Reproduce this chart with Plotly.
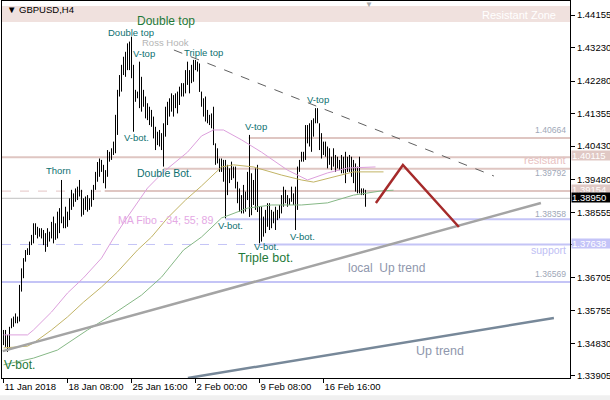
import plotly.graph_objects as go

# ---------------- data ----------------
symbol_title = "GBPUSD,H4"
x_tick_idx = [0, 32, 64, 96, 128, 160]
x_tick_text = ["11 Jan 2018", "18 Jan 08:00", "25 Jan 16:00", "2 Feb 00:00", "9 Feb 08:00", "16 Feb 16:00"]
y_tick_vals = [1.44155, 1.43230, 1.42280, 1.41355, 1.40430, 1.39480, 1.38555,
               1.37630, 1.36705, 1.35755, 1.34830, 1.33905]
y_tick_hidden = [1.37630]   # covered by the "support" price box in the original

bar_high = [1.3521, 1.3521, 1.3507, 1.3530, 1.3554, 1.3559, 1.3568, 1.3559, 1.3649, 1.3696,
            1.3725, 1.3748, 1.3753, 1.3772, 1.3791, 1.3824, 1.3824, 1.3814, 1.3810, 1.3810,
            1.3805, 1.3796, 1.3810, 1.3800, 1.3828, 1.3843, 1.3824, 1.3857, 1.3867, 1.3947,
            1.3843, 1.3871, 1.3857, 1.3895, 1.3919, 1.3909, 1.3923, 1.3928, 1.3947, 1.3919,
            1.3895, 1.3900, 1.3904, 1.3895, 1.3919, 1.3933, 1.3970, 1.3998, 1.4008, 1.4004,
            1.3990, 1.3975, 1.4032, 1.4027, 1.4037, 1.4056, 1.4132, 1.4203, 1.4245, 1.4274,
            1.4297, 1.4311, 1.4335, 1.4340, 1.4354, 1.4274, 1.4203, 1.4198, 1.4283, 1.4240,
            1.4203, 1.4184, 1.4165, 1.4155, 1.4146, 1.4127, 1.4098, 1.4084, 1.4089, 1.4080,
            1.4108, 1.4155, 1.4169, 1.4179, 1.4193, 1.4188, 1.4193, 1.4198, 1.4212, 1.4222,
            1.4222, 1.4259, 1.4283, 1.4259, 1.4274, 1.4288, 1.4288, 1.4283, 1.4278, 1.4198,
            1.4179, 1.4184, 1.4146, 1.4132, 1.4136, 1.4155, 1.4051, 1.4037, 1.4008, 1.4008,
            1.4004, 1.4004, 1.3990, 1.3980, 1.3999, 1.3985, 1.3985, 1.3942, 1.3923, 1.3904,
            1.3933, 1.3914, 1.3970, 1.4075, 1.3966, 1.3947, 1.3980, 1.3990, 1.3871, 1.3871,
            1.3843, 1.3862, 1.3881, 1.3881, 1.3862, 1.3857, 1.3871, 1.3862, 1.3876, 1.3904,
            1.3928, 1.3919, 1.3904, 1.3895, 1.3928, 1.3909, 1.3928, 1.3985, 1.4004, 1.4027,
            1.4027, 1.4103, 1.4103, 1.4108, 1.4117, 1.4122, 1.4151, 1.4151, 1.4108, 1.4080,
            1.4056, 1.4056, 1.4042, 1.4037, 1.4013, 1.4037, 1.4018, 1.4013, 1.4004, 1.4018,
            1.4013, 1.4027, 1.4013, 1.4018, 1.4013, 1.4004, 1.3994, 1.3985, 1.4013, 1.3923,
            1.3923, 1.3919]
bar_low = [1.3478, 1.3473, 1.3459, 1.3464, 1.3526, 1.3530, 1.3540, 1.3540, 1.3545, 1.3630,
           1.3668, 1.3715, 1.3734, 1.3734, 1.3762, 1.3767, 1.3791, 1.3781, 1.3786, 1.3781,
           1.3762, 1.3743, 1.3757, 1.3772, 1.3781, 1.3767, 1.3777, 1.3781, 1.3796, 1.3824,
           1.3810, 1.3810, 1.3814, 1.3833, 1.3862, 1.3871, 1.3885, 1.3890, 1.3900, 1.3843,
           1.3848, 1.3862, 1.3857, 1.3862, 1.3871, 1.3890, 1.3919, 1.3942, 1.3956, 1.3970,
           1.3938, 1.3923, 1.3956, 1.3999, 1.4004, 1.4018, 1.4023, 1.4075, 1.4184, 1.4198,
           1.4245, 1.4240, 1.4259, 1.4259, 1.4236, 1.4084, 1.4169, 1.4179, 1.4151, 1.4141,
           1.4155, 1.4122, 1.4117, 1.4103, 1.4098, 1.4065, 1.4032, 1.4046, 1.4042, 1.4032,
           1.3985, 1.4070, 1.4103, 1.4127, 1.4141, 1.4127, 1.4151, 1.4136, 1.4160, 1.4184,
           1.4184, 1.4193, 1.4217, 1.4193, 1.4222, 1.4226, 1.4259, 1.4255, 1.4197, 1.4155,
           1.4127, 1.4113, 1.4108, 1.4103, 1.4094, 1.4046, 1.3990, 1.3994, 1.3970, 1.3970,
           1.3942, 1.3838, 1.3904, 1.3938, 1.3947, 1.3952, 1.3923, 1.3881, 1.3857, 1.3852,
           1.3852, 1.3857, 1.3890, 1.3842, 1.3847, 1.3876, 1.3862, 1.3856, 1.3767, 1.3772,
           1.3786, 1.3796, 1.3814, 1.3805, 1.3810, 1.3824, 1.3805, 1.3833, 1.3838, 1.3852,
           1.3871, 1.3881, 1.3871, 1.3876, 1.3885, 1.3876, 1.3805, 1.3862, 1.3970, 1.3999,
           1.3999, 1.4004, 1.4051, 1.4042, 1.4027, 1.4070, 1.4108, 1.4108, 1.4032, 1.4008,
           1.4018, 1.4013, 1.3980, 1.3990, 1.3975, 1.3985, 1.3970, 1.3980, 1.3975, 1.3966,
           1.3966, 1.3938, 1.3970, 1.3970, 1.3956, 1.3938, 1.3914, 1.3909, 1.3909, 1.3904,
           1.3904, 1.3871]

# moving averages (34, 55, 89), read at sample bars
ma34_idx = [0, 12, 15, 24, 32, 40, 49, 55, 62, 72, 80, 92, 99, 105, 110, 119, 129, 142, 152, 162, 172, 186]
ma34_val = [1.3507, 1.3507, 1.3521, 1.3572, 1.3626, 1.3669, 1.3725, 1.3782, 1.3842, 1.3924, 1.3970,
            1.4026, 1.4072, 1.4089, 1.4089, 1.4061, 1.4026, 1.3975, 1.3947, 1.3967, 1.3981, 1.3984]
ma55_idx = [0, 12, 15, 24, 32, 40, 49, 57, 67, 74, 82, 91, 99, 109, 115, 125, 139, 149, 155, 165, 175, 190]
ma55_val = [1.3470, 1.3475, 1.3484, 1.3521, 1.3558, 1.3600, 1.3643, 1.3686, 1.3748, 1.3785, 1.3839,
            1.3890, 1.3930, 1.3984, 1.3990, 1.3984, 1.3961, 1.3947, 1.3941, 1.3955, 1.3970, 1.3970]
ma89_idx = [0, 15, 27, 42, 54, 69, 79, 90, 99, 109, 122, 134, 149, 162, 175, 189, 195]
ma89_val = [1.3422, 1.3441, 1.3464, 1.3521, 1.3563, 1.3620, 1.3671, 1.3748, 1.3785, 1.3839, 1.3867,
            1.3876, 1.3876, 1.3882, 1.3904, 1.3916, 1.3918]

# horizontal levels
level_resist_zone = [1.43956, 1.44411]
level_r1, level_r1_start = 1.40664, 122.6
level_r2 = 1.40115
level_r3, level_r3_start = 1.39792, 80
level_r4, level_r4_start = 1.39154, 50.6
level_bid = 1.38950
level_s1, level_s1_start = 1.38358, 111
level_s2, level_s2_start = 1.37638, 128
level_s3 = 1.36569

# trend lines (bar index, price)
ross_hook_x, ross_hook_y = [85.2, 245.2], [1.43161, 1.39583]
local_up_x, local_up_y = [-0.4, 268.7], [1.34610, 1.38816]
up_trend_x, up_trend_y = [92.2, 275.2], [1.33846, 1.35549]
forecast_x, forecast_y = [186.2, 199.7, 227.7], [1.38816, 1.39895, 1.38134]

X_MIN, X_MAX = -0.75, 283.25
Y_MIN, Y_MAX = 1.33846, 1.44553

# ---------------- figure ----------------
fig = go.Figure()

PINK = "#dfc6c2"
LAV = "#c4c4f6"

def hline(price, x0, color, width=2, dash="solid"):
    fig.add_trace(go.Scatter(x=[x0, X_MAX], y=[price, price], mode="lines",
                             line=dict(color=color, width=width, dash=dash),
                             hoverinfo="skip", showlegend=False))

fig.add_shape(type="rect", xref="x", yref="y", x0=X_MIN, x1=X_MAX,
              y0=level_resist_zone[0], y1=level_resist_zone[1],
              fillcolor="#f0e1de", line_width=0, layer="below")

hline(level_r4, X_MIN, "#e4c4c4", 1, "dash")
hline(level_s2, X_MIN, "#c4c4f6", 1, "dash")
hline(level_bid, X_MIN, "#c0c0c0", 1)
hline(level_r1, level_r1_start, PINK)
hline(level_r2, X_MIN, PINK)
hline(level_r3, level_r3_start, PINK)
hline(level_r4, level_r4_start, PINK)
hline(level_s1, level_s1_start, LAV)
hline(level_s2, level_s2_start, LAV)
hline(level_s3, X_MIN, LAV)

# price bars (high-low)
bx, by = [], []
for i, (h, l) in enumerate(zip(bar_high, bar_low)):
    bx += [i, i, None]
    by += [l, h, None]
fig.add_trace(go.Scatter(x=bx, y=by, mode="lines", line=dict(color="black", width=1),
                         hoverinfo="skip", showlegend=False))

for xs, ys, col in [(ma34_idx, ma34_val, "#dda0dd"), (ma55_idx, ma55_val, "#c2b466"),
                    (ma89_idx, ma89_val, "#86b886")]:
    fig.add_trace(go.Scatter(x=xs, y=ys, mode="lines", line=dict(color=col, width=1),
                             hoverinfo="skip", showlegend=False))

fig.add_trace(go.Scatter(x=ross_hook_x, y=ross_hook_y, mode="lines",
                         line=dict(color="#606060", width=1, dash="dash"),
                         hoverinfo="skip", showlegend=False))
fig.add_trace(go.Scatter(x=local_up_x, y=local_up_y, mode="lines",
                         line=dict(color="#a4a4a4", width=2.5), hoverinfo="skip", showlegend=False))
fig.add_trace(go.Scatter(x=up_trend_x, y=up_trend_y, mode="lines",
                         line=dict(color="#778899", width=2.5), hoverinfo="skip", showlegend=False))
fig.add_trace(go.Scatter(x=forecast_x, y=forecast_y, mode="lines",
                         line=dict(color="#a52a2a", width=2.5), hoverinfo="skip", showlegend=False))

FONT = "Liberation Sans"
GREEN = "#1f7a3a"
TEAL = "#0e7070"

labels = [
    ("Double top", 81.25, 1.43985, 12, GREEN),
    ("Double top", 63.75, 1.43672, 9.5, TEAL),
    ("Ross Hook", 80.75, 1.43388, 9.5, "#b4b4b4"),
    ("V-top", 70.25, 1.43076, 9.5, TEAL),
    ("Triple top", 99.75, 1.43104, 9.5, TEAL),
    ("V-top", 157.25, 1.41769, 9.5, TEAL),
    ("V-top", 126.25, 1.41003, 9.5, TEAL),
    ("V-bot.", 66.25, 1.40690, 9.5, TEAL),
    ("Thorn", 27.25, 1.39753, 9.5, TEAL),
    ("Double Bot.", 80.25, 1.39668, 10.5, TEAL),
    ("V-bot.", 113.25, 1.38191, 9.5, TEAL),
    ("V-bot.", 149.25, 1.37879, 9.5, TEAL),
    ("V-bot.", 131.25, 1.37595, 9.5, TEAL),
    ("Triple bot.", 130.75, 1.37254, 12.5, GREEN),
    ("V-bot.", 7.75, 1.34215, 12, GREEN),
    ("local  Up trend", 191.25, 1.36970, 12, "#8f97ad"),
    ("Up trend", 218.25, 1.34613, 12.5, "#8f97ad"),
    ("Resistant Zone", 257.75, 1.44169, 11, "white"),
]
for txt, xi, yp, sz, col in labels:
    fig.add_annotation(x=xi, y=yp, xref="x", yref="y", text=txt, showarrow=False,
                       font=dict(family=FONT, size=sz, color=col),
                       xanchor="center", yanchor="middle")

fig.add_annotation(x=56.25, y=1.38333, xref="x", yref="y", text="MA Fibo - 34; 55; 89",
                   showarrow=False, font=dict(family=FONT, size=10.6, color="#e4a8e4"),
                   xanchor="left", yanchor="middle")
fig.add_annotation(x=0.75, y=1.4431, xref="x", yref="y", text="▼ " + symbol_title,
                   showarrow=False, font=dict(family=FONT, size=9.5, color="black"),
                   xanchor="left", yanchor="middle")
fig.add_annotation(x=182.75, y=1, xref="x", yref="paper", text="▼", showarrow=False,
                   font=dict(family=FONT, size=8, color="#a8a8a8"), xanchor="center", yanchor="top",
                   yshift=3)

right_texts = [("resistant", 1.40037, 11, "#e8c2c2"), ("support", 1.37481, 10.5, "#c0c0f4"),
               ("1.40664", 1.40889, 8.6, "#a0a8b8"), ("1.39792", 1.39668, 8.6, "#a0a8b8"),
               ("1.38358", 1.38503, 8.6, "#a0a8b8"), ("1.36569", 1.36799, 8.6, "#a0a8b8")]
for txt, yp, sz, col in right_texts:
    fig.add_annotation(x=1, y=yp, xref="paper", yref="y", text=txt, showarrow=False,
                       font=dict(family=FONT, size=sz, color=col), xanchor="right",
                       yanchor="middle", xshift=-2)

# price boxes on the axis: (price, background, vertical nudge in px)
boxes = [(level_r2, "#e0c8c4", 2), (level_r4, "#e0c8c4", 2), (level_s2, "#c4c4f8", 1),
         (level_bid, "black", 0.5)]
for yp, bg, ys in boxes:
    fig.add_annotation(x=1, y=yp, xref="paper", yref="y", text=f"{yp:.5f}", showarrow=False,
                       font=dict(family=FONT, size=9.5, color="white"), bgcolor=bg,
                       xanchor="left", yanchor="middle", xshift=1, yshift=ys, width=40, height=9,
                       borderpad=0, align="left")

fig.add_shape(type="rect", xref="paper", yref="paper", x0=-0.01, x1=1.1, y0=-0.06, y1=-0.046,
              fillcolor="#f0f0f0", line_width=0)

fig.update_layout(
    width=610, height=400,
    margin=dict(l=2, r=40, t=1, b=22, autoexpand=False),
    paper_bgcolor="white", plot_bgcolor="white",
    showlegend=False,
    xaxis=dict(range=[X_MIN, X_MAX], showgrid=False, zeroline=False, showline=True,
               linecolor="black", linewidth=1, mirror=True, ticks="outside", ticklen=4,
               tickcolor="black", tickmode="array", tickvals=x_tick_idx, ticktext=x_tick_text,
               ticklabelposition="outside right", tickangle=0, automargin=False,
               tickfont=dict(family=FONT, size=9.5, color="black")),
    yaxis=dict(range=[Y_MIN, Y_MAX], side="right", showgrid=False, zeroline=False,
               showline=True, linecolor="black", linewidth=1, mirror=True, ticks="outside",
               ticklen=4, tickcolor="black", tickmode="array", tickvals=y_tick_vals,
               ticktext=["" if v in y_tick_hidden else f"{v:.5f}" for v in y_tick_vals],
               automargin=False,
               tickfont=dict(family=FONT, size=9.5, color="black")),
)

fig.write_html("out.html", config={"displayModeBar": False},
               post_script="document.body.style.margin='0px';document.body.style.overflow='hidden';")
